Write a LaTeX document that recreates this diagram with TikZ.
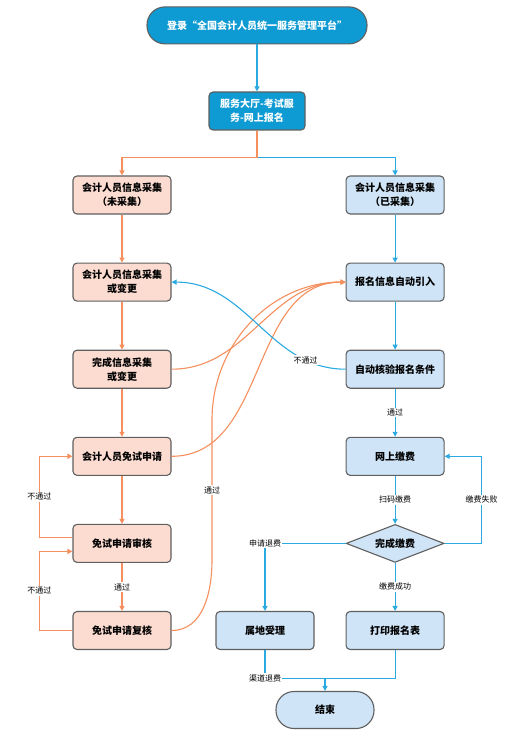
\documentclass[tikz,border=0pt]{standalone}
\usepackage{fontspec}
\setmainfont{Noto Sans CJK SC}
\usetikzlibrary{positioning,arrows.meta,shapes.geometric}

\definecolor{azulosc}{HTML}{0E9AD2}
\definecolor{azulclaro}{HTML}{CFE4F6}
\definecolor{rosa}{HTML}{FCDCD1}
\definecolor{naranja}{HTML}{F58F5E}
\definecolor{linea}{HTML}{2AAAE0}
\definecolor{borde}{HTML}{5F5F5F}

\begin{document}
\begin{tikzpicture}[
  x=1pt, y=-1pt,
  font=\fontsize{10}{14}\selectfont\bfseries,
  base/.style={draw=borde, line width=1.1pt, rectangle, rounded corners=4pt, align=center, minimum width=98pt, minimum height=38pt, inner sep=1.5pt},
  cajaR/.style={base, fill=rosa},
  cajaA/.style={base, fill=azulclaro},
  cajaO/.style={base, fill=azulosc, text=white, minimum width=96pt},
  term/.style={base, rounded corners=18pt, minimum height=37pt},
  rombo/.style={draw=borde, line width=1.1pt, diamond, fill=azulclaro, aspect=2.6, minimum width=98pt, minimum height=38pt, inner sep=0pt},
  fN/.style={-{Triangle[length=5pt,width=5pt]}, naranja, line width=1.1pt},
  fA/.style={-{Triangle[length=5pt,width=5pt]}, linea, line width=1.1pt},
  lA/.style={linea, line width=1.1pt},
  etiq/.style={fill=white, inner sep=1pt, text=black, font=\fontsize{8}{9}\selectfont},
  node distance=48pt and 174pt
]
\useasboundingbox (0,0) rectangle (514,738);

% Columna izquierda: informacion y exencion
\node[cajaR] (l1) at (122,195) {会计人员信息采集\\（未采集）};
\node[cajaR, below=of l1] (l2) {会计人员信息采集\\或变更};
\node[cajaR, below=of l2] (l3) {完成信息采集\\或变更};
\node[cajaR, below=of l3] (l4) {会计人员免试申请};
\node[cajaR, below=of l4] (l5) {免试申请审核};
\node[cajaR, below=of l5] (l6) {免试申请复核};

% Columna derecha: inscripcion y pago
\node[cajaA, right=of l1] (r1) {会计人员信息采集\\（已采集）};
\node[cajaA, below=of r1] (r2) {报名信息自动引入};
\node[cajaA, below=of r2] (r3) {自动核验报名条件};
\node[cajaA, below=of r3] (r4) {网上缴费};
\node[rombo, below=of r4] (pago) {完成缴费};
\node[cajaA, below=of pago] (r5) {打印报名表};
\node[cajaA, left=31pt of r5] (shudi) {属地受理};

% Arriba y abajo
\node[cajaO] (sala) at (257,111) {服务大厅-考试服\\务-网上报名};
\node[term, fill=azulosc, text=white, minimum width=220pt, above=47pt of sala] (inicio) {登录“全国会计人员统一服务管理平台”};
\node[term, fill=azulclaro] (fin) at (325,710) {结束};

\draw[fA] (inicio) -- (sala);
\path (sala.south) ++(0,27) coordinate (rama);
\draw[fA] (rama) -| (r1.north);
\draw[fN] (sala.south) -- (rama) -| (l1.north);

\draw[fN] (l1) -- (l2);
\draw[fN] (l2) -- (l3);
\draw[fN] (l3) -- (l4);
\draw[fN] (l4) -- (l5);
\draw[fN] (l5) -- node[etiq]{通过} (l6);
\draw[fN] ([yshift=6pt]l5.west) -- ++(-33,0) |- node[etiq, pos=0.25]{不通过} (l4.west);
\draw[fN] (l6.west) -- ++(-33,0) |- node[etiq, pos=0.25]{不通过} ([yshift=-8pt]l5.west);

% Curvas hacia la importacion automatica
\draw[fN] (l3.east) to[out=0, in=180] (r2.west);
\draw[fN] (l4.east) to[out=0, in=180] (r2.west);
\draw[fN] (l6.east) to[out=0, in=-90] (212,560) -- node[etiq]{通过} (212,420) to[out=90, in=180] (r2.west);
\draw[fA] (r3.west) to[out=180, in=0] node[etiq, pos=0.2]{不通过} (l2.east);

\draw[fA] (r1) -- (r2);
\draw[fA] (r2) -- (r3);
\draw[fA] (r3) -- node[etiq]{通过} (r4);
\draw[fA] (r4) -- node[etiq]{扫码缴费} (pago);
\draw[fA] (pago) -- node[etiq]{缴费成功} (r5);
\draw[fA] (pago.east) -- ++(37,0) |- node[etiq, pos=0.25]{缴费失败} (r4.east);
\draw[fA] (pago.west) -| node[etiq, pos=0.5]{申请退费} (shudi.north);

\draw[lA] (shudi.south) -- ++(0,28) coordinate (junta) node[etiq]{渠道退费} -| (r5.south);
\draw[fA] (junta -| fin.north) -- (fin.north);
\end{tikzpicture}
\end{document}
